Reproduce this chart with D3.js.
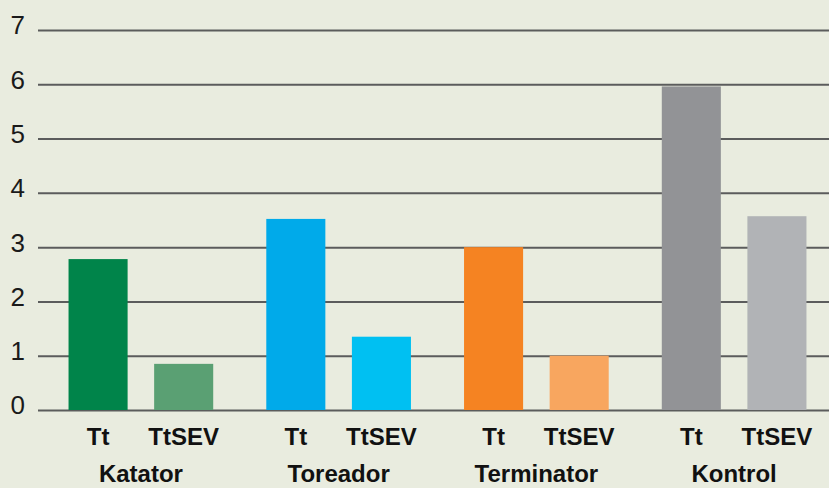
<!DOCTYPE html>
<html>
<head>
<meta charset="utf-8">
<script src="https://cdn.jsdelivr.net/npm/d3@7"></script>
<style>
  html, body { margin: 0; padding: 0; background: #e9ecdf; }
  svg { display: block; font-family: "Liberation Sans", Arial, Helvetica, sans-serif; }
</style>
</head>
<body>
<div id="chart"></div>
<script>
// data
GROUPS = ['Katator', 'Toreador', 'Terminator', 'Kontrol']
SERIES = ['Tt', 'TtSEV']
TT_VALUES = [2.78, 3.52, 3.0, 5.96]
TTSEV_VALUES = [0.85, 1.35, 1.0, 3.57]
Y_TICKS = [0, 1, 2, 3, 4, 5, 6, 7]
COLORS = [['#00844a', '#5aa073'], ['#00aaea', '#00c0f2'], ['#f58322', '#f8a65f'], ['#929396', '#b1b3b6']]

var width = 829, height = 488;
var plotLeft = 38, plotBottom = 410, plotTop = 30;

var svg = d3.select("#chart")
    .append("svg")
    .attr("width", width)
    .attr("height", height);

svg.append("rect")
    .attr("width", width)
    .attr("height", height)
    .attr("fill", "#e9ecdf");

var data = GROUPS.map(function(g, i) {
    return {group: g, values: [TT_VALUES[i], TTSEV_VALUES[i]], colors: COLORS[i]};
});

var y = d3.scaleLinear()
    .domain([0, 7])
    .range([plotBottom, plotTop]);

var x0 = d3.scaleBand()
    .domain(GROUPS)
    .range([42, 833]);

var x1 = d3.scaleBand()
    .domain(SERIES)
    .range([0, x0.bandwidth()])
    .padding(0.31);

// gridlines + y labels
var yAxis = svg.append("g")
    .attr("transform", "translate(" + plotLeft + ",0)")
    .call(d3.axisLeft(y).tickValues(Y_TICKS).tickSize(-(width - plotLeft)).tickPadding(13).tickFormat(d3.format("d")));
yAxis.select(".domain").remove();
yAxis.selectAll("line")
    .attr("stroke", "#5b5c5c")
    .attr("stroke-width", 2);
yAxis.selectAll("text")
    .attr("dy", "0.15em")
    .attr("fill", "#1a1a1a")
    .style("font-size", "26px");

// bars
var groups = svg.selectAll(".grp")
    .data(data)
    .enter()
    .append("g")
    .attr("class", "grp")
    .attr("transform", function(d) { return "translate(" + x0(d.group) + ",0)"; });

groups.selectAll("rect")
    .data(function(d) {
        return SERIES.map(function(s, j) { return {key: s, value: d.values[j], color: d.colors[j]}; });
    })
    .enter()
    .append("rect")
    .attr("x", function(d) { return x1(d.key); })
    .attr("y", function(d) { return y(d.value); })
    .attr("width", x1.bandwidth())
    .attr("height", function(d) { return y(0) - y(d.value); })
    .attr("fill", function(d) { return d.color; });

// series labels under each bar
groups.each(function() {
    var ax = d3.select(this).append("g")
        .attr("transform", "translate(0," + plotBottom + ")")
        .call(d3.axisBottom(x1).tickSize(0).tickPadding(18));
    ax.select(".domain").remove();
    ax.selectAll("text")
        .attr("fill", "#111")
        .style("font-size", "24px")
        .style("font-weight", "bold");
});

// group labels
var xAxis = svg.append("g")
    .attr("transform", "translate(0," + plotBottom + ")")
    .call(d3.axisBottom(x0).tickSize(0).tickPadding(55));
xAxis.select(".domain").remove();
xAxis.selectAll("text")
    .attr("fill", "#111")
    .style("font-size", "24px")
    .style("font-weight", "bold");
</script>
</body>
</html>
